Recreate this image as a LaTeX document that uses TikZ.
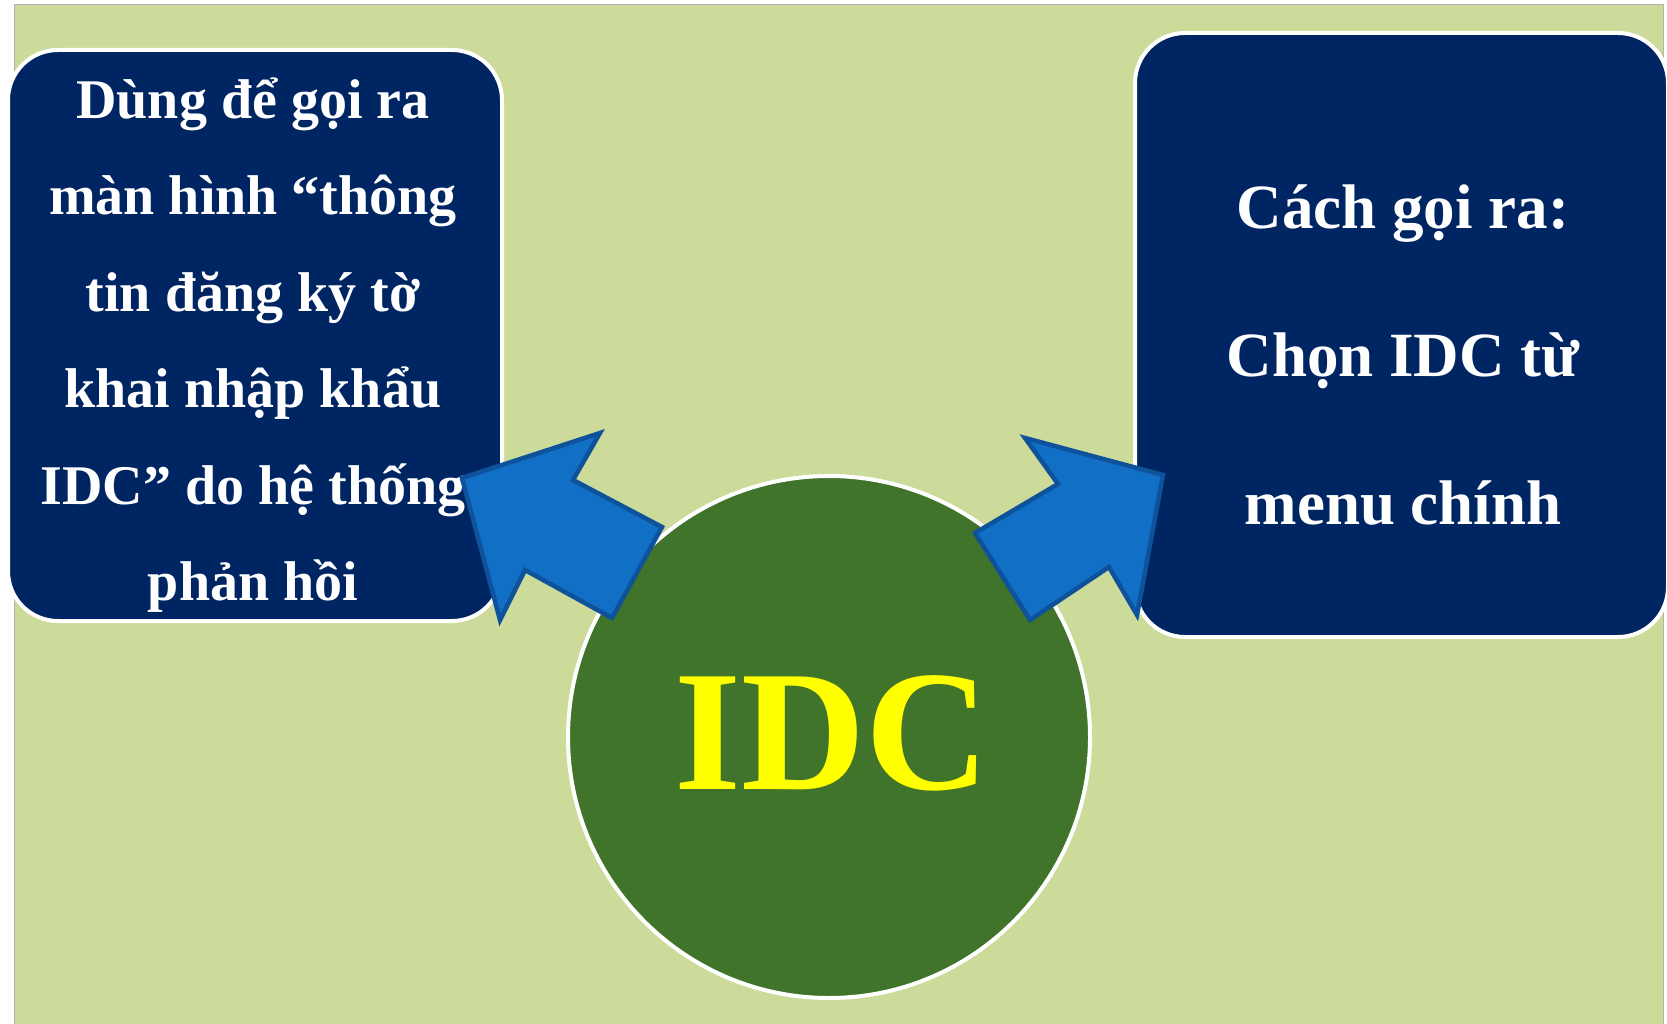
\documentclass[tikz,border=0pt]{standalone}
\usepackage{fontspec}
\setmainfont{Liberation Serif}
\definecolor{bgGreen}{RGB}{204,219,153}
\definecolor{navyBox}{RGB}{0,37,99}
\definecolor{circGreen}{RGB}{64,116,42}
\definecolor{arrowFill}{RGB}{17,111,198}
\definecolor{arrowLine}{RGB}{14,82,155}
\definecolor{idcYellow}{RGB}{255,255,0}
\tikzset{
  infobox/.style={draw=white, line width=4pt, fill=navyBox, rounded corners=50pt, inner sep=0pt},
  boxtext/.style={text=white, align=center, inner sep=0pt, font=\bfseries},
  hub/.style={circle, draw=white, line width=4pt, fill=circGreen, inner sep=0pt},
  blockarrow/.style={fill=arrowFill, draw=arrowLine, line width=4.5pt, line join=miter}
}
\begin{document}
\begin{tikzpicture}[x=1pt, y=-1pt]
\useasboundingbox (0,0) rectangle (1667,1024);
\clip (0,0) rectangle (1667,1024);
% background
\fill[white] (0,0) rectangle (1667,1024);
\draw[fill=bgGreen, draw=black!30, line width=1pt] (14,5) rectangle (1663,1030);
% boxes
\node[infobox, minimum width=494pt, minimum height=571pt] (leftbox) at (255,335.5) {};
\node[infobox, minimum width=533pt, minimum height=604pt] (rightbox) at (1401.5,335) {};
% hub circle
\node[hub, minimum size=522pt] (hub) at (829,737) {};
% texts
\node[boxtext, font=\bfseries\fontsize{56}{96.5}\selectfont] (lefttext) at (253,345)
  {Dùng để gọi ra\\màn hình “thông\\tin đăng ký tờ\\khai nhập khẩu\\IDC” do hệ thống\\phản hồi};
\node[boxtext, font=\bfseries\fontsize{63}{148}\selectfont] (righttext) at (1403,355)
  {Cách gọi ra:\\Chọn IDC từ\\menu chính};
\node[text=idcYellow, inner sep=0pt, font=\bfseries\fontsize{172}{172}\selectfont] (idc) at (832,733) {IDC};
% block arrows
\draw[blockarrow] (462,478) -- (600,433) -- (573,480) -- (662,527) -- (612,618) -- (525,570) -- (500,620) -- cycle;
\draw[blockarrow] (1163,475) -- (1137,615) -- (1109,567) -- (1030,620) -- (975,533) -- (1058,484) -- (1025,438) -- cycle;
\end{tikzpicture}
\end{document}
